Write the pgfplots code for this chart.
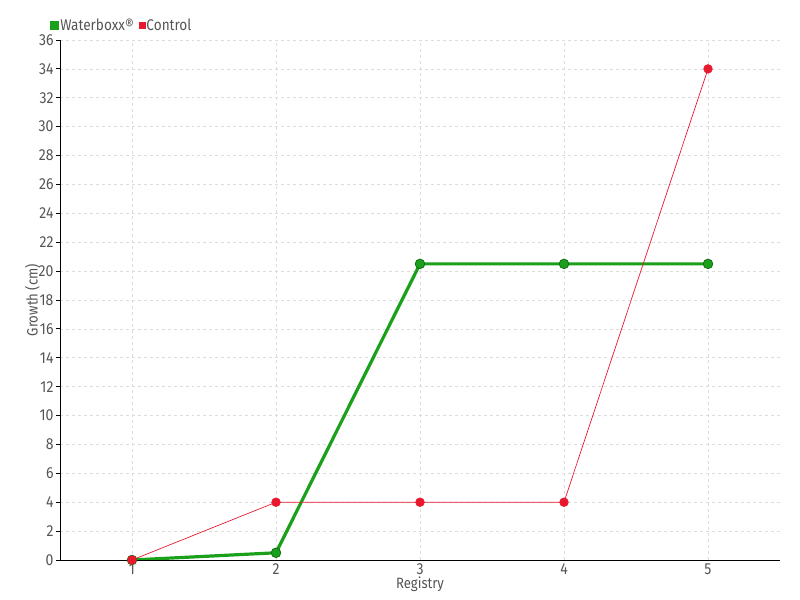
\documentclass[border=0pt]{standalone}
\usepackage{pgfplots}
\pgfplotsset{compat=1.18}
\usepackage{fontspec}
\setmainfont[FakeStretch=0.88]{Fira Sans}
\definecolor{wgreen}{RGB}{26,160,26}
\definecolor{cred}{RGB}{232,25,44}
\definecolor{txt}{RGB}{85,85,85}
\definecolor{gridc}{RGB}{220,220,220}

\begin{document}
\begin{tikzpicture}
\path[use as bounding box] (0,0) rectangle (800bp,600bp);
\begin{axis}[
  at={(60bp,40bp)}, anchor=south west,
  scale only axis, width=720bp, height=520bp,
  xmin=0.5, xmax=5.5, ymin=0, ymax=36,
  xtick={1,2,3,4,5}, ytick={0,2,...,36},
  axis x line*=bottom, axis y line*=left,
  axis line style={black, line width=0.8pt, -},
  grid=major, grid style={gridc, dashed, line width=0.6pt},
  tick style={black, line width=0.8pt},
  major tick length=4bp,
  xtick style={draw=none},
  ytick pos=left,
  tick align=outside,
  font=\fontsize{16}{18}\selectfont,
  ticklabel style={text=txt, font=\fontsize{16}{18}\selectfont},
  xticklabel style={yshift=4bp},
  yticklabel style={xshift=1bp},
  /pgf/number format/assume math mode=true,
  xlabel={Registry}, ylabel={Growth (cm)},
  label style={text=txt, font=\fontsize{15}{17}\selectfont},
  xlabel style={at={(axis description cs:0.5,0)}, anchor=north, yshift=-13bp},
  ylabel style={yshift=-8bp},
  legend style={at={(axis description cs:0,1)}, anchor=south west,
    xshift=-13bp, yshift=4bp, draw=none, fill=none,
    legend columns=2, font=\fontsize{15.5}{17}\selectfont, text=txt,
    /tikz/every even column/.append style={column sep=4bp},
    nodes={inner xsep=1bp}},
  legend image code/.code={\fill[#1] (1bp,-3bp) rectangle (7bp,3bp);},
  legend cell align=left,
]
\addplot[wgreen, line width=3.2bp, mark=*, mark size=4.8bp,
  mark options={fill=wgreen, draw=wgreen!70!black, line width=0.8pt}]
  coordinates {(1,0) (2,0.5) (3,20.5) (4,20.5) (5,20.5)};
\addlegendentry{Waterboxx®}
\addplot[cred, line width=0.7pt, mark=*, mark size=4.3bp,
  mark options={fill=cred, draw=cred}]
  coordinates {(1,0) (2,4) (3,4) (4,4) (5,34)};
\addlegendentry{Control}
\end{axis}
\end{tikzpicture}
\end{document}
